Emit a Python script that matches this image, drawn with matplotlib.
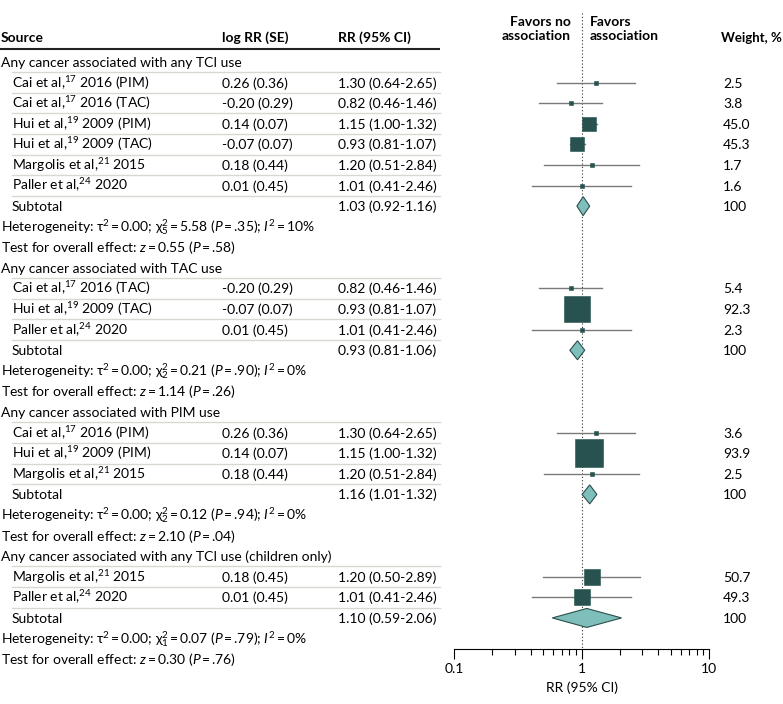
import matplotlib
matplotlib.use("Agg")
import numpy as np
import matplotlib.pyplot as plt

# Dados do forest plot (um item por grupo)
grupos = [
    "Any cancer associated with any TCI use",
    "Any cancer associated with TAC use",
    "Any cancer associated with PIM use",
    "Any cancer associated with any TCI use (children only)",
]
fontes = [
    ["Cai et al,$^{17}$ 2016 (PIM)", "Cai et al,$^{17}$ 2016 (TAC)", "Hui et al,$^{19}$ 2009 (PIM)",
     "Hui et al,$^{19}$ 2009 (TAC)", "Margolis et al,$^{21}$ 2015", "Paller et al,$^{24}$ 2020"],
    ["Cai et al,$^{17}$ 2016 (TAC)", "Hui et al,$^{19}$ 2009 (TAC)", "Paller et al,$^{24}$ 2020"],
    ["Cai et al,$^{17}$ 2016 (PIM)", "Hui et al,$^{19}$ 2009 (PIM)", "Margolis et al,$^{21}$ 2015"],
    ["Margolis et al,$^{21}$ 2015", "Paller et al,$^{24}$ 2020"],
]
log_rr = [[0.26, -0.20, 0.14, -0.07, 0.18, 0.01], [-0.20, -0.07, 0.01], [0.26, 0.14, 0.18], [0.18, 0.01]]
se = [[0.36, 0.29, 0.07, 0.07, 0.44, 0.45], [0.29, 0.07, 0.45], [0.36, 0.07, 0.44], [0.45, 0.45]]
rr = [[1.30, 0.82, 1.15, 0.93, 1.20, 1.01], [0.82, 0.93, 1.01], [1.30, 1.15, 1.20], [1.20, 1.01]]
rr_lo = [[0.64, 0.46, 1.00, 0.81, 0.51, 0.41], [0.46, 0.81, 0.41], [0.64, 1.00, 0.51], [0.50, 0.41]]
rr_hi = [[2.65, 1.46, 1.32, 1.07, 2.84, 2.46], [1.46, 1.07, 2.46], [2.65, 1.32, 2.84], [2.89, 2.46]]
peso = [[2.5, 3.8, 45.0, 45.3, 1.7, 1.6], [5.4, 92.3, 2.3], [3.6, 93.9, 2.5], [50.7, 49.3]]

sub_rr = [1.03, 0.93, 1.16, 1.10]
sub_lo = [0.92, 0.81, 1.01, 0.59]
sub_hi = [1.16, 1.06, 1.32, 2.06]
tau2 = [0.00, 0.00, 0.00, 0.00]
gl = [5, 2, 2, 1]
chi2 = [5.58, 0.21, 0.12, 0.07]
p_het = [".35", ".90", ".94", ".79"]
i2 = [10, 0, 0, 0]
z = [0.55, 1.14, 2.10, 0.30]
p_z = [".58", ".26", ".04", ".76"]

# Estilo
plt.rcParams["font.family"] = ["Lato", "DejaVu Sans"]
plt.rcParams["mathtext.fontset"] = "custom"
plt.rcParams["mathtext.rm"] = "Lato"
plt.rcParams["mathtext.it"] = "Lato:italic"
plt.rcParams["mathtext.bf"] = "Lato:bold"
fs = 10

cor_quad = "#27524f"
cor_diam = "#7ebfbb"
cor_ic = "#7a7a7a"
cor_sep = "#d8d8d2"

W, H = 783, 704
fig = plt.figure(figsize=(W / 100, H / 100), dpi=100)

# eixo de fundo em pixels para o texto
ax0 = fig.add_axes([0, 0, 1, 1])
ax0.set_xlim(0, W)
ax0.set_ylim(H, 0)
ax0.axis("off")

# eixo do forest plot
x0, x1, y_eixo = 454, 709, 649
ax = fig.add_axes([x0 / W, (H - y_eixo) / H, (x1 - x0) / W, y_eixo / H])
ax.set_xscale("log")
ax.set_xlim(0.1, 10)
ax.set_ylim(y_eixo, 0)
ax.patch.set_alpha(0)
for s in ["top", "right", "left"]:
    ax.spines[s].set_visible(False)
ax.spines["bottom"].set_linewidth(0.8)
ax.set_yticks([])
ax.set_xticks([0.1, 1, 10])
ax.set_xticklabels(["0.1", "1", "10"])
ax.tick_params(axis="x", which="major", length=7, width=0.8, labelsize=fs, pad=3)
ax.tick_params(axis="x", which="minor", length=4, width=0.8)
ax.set_xlabel("RR (95% CI)", fontsize=fs, labelpad=5)
ax.vlines(1, 13, y_eixo, colors="#333333", linestyles=(0, (1, 2)), linewidth=0.8)

# cabeçalho
col_src, col_log, col_rr, col_w = 1, 222, 338, 723
yh = 37
for x, t in [(col_src, "Source"), (col_log, "log RR (SE)"), (col_rr, "RR (95% CI)")]:
    ax0.text(x, yh + 5, t, fontsize=fs, fontweight="bold", va="baseline", ha="left")
ax0.text(721, yh + 5, "Weight, %", fontsize=9.5, fontweight="bold", va="baseline", ha="left")
ax0.text(571, 29, "Favors no\nassociation", fontsize=fs, fontweight="bold", ha="right", va="center",
         multialignment="right", linespacing=1.15)
ax0.text(590, 29, "Favors\nassociation", fontsize=fs, fontweight="bold", ha="left", va="center",
         multialignment="left", linespacing=1.15)
ax0.plot([0, 440], [49, 49], color="#222222", lw=1.5, solid_capstyle="butt")

y_top, passo = 62, 20.59
linha = 0


def ypos(r):
    return y_top + passo * r


for g in range(len(grupos)):
    ax0.text(col_src, ypos(linha) + 5, grupos[g], fontsize=fs, va="baseline")
    linha += 1
    n = len(fontes[g])
    for i in range(n):
        y = ypos(linha)
        ax0.plot([12, 440], [y - passo / 2, y - passo / 2], color=cor_sep, lw=1)
        ax0.text(12, y + 5, fontes[g][i], fontsize=fs, va="baseline")
        ax0.text(col_log, y + 5, f"{log_rr[g][i]:.2f} ({se[g][i]:.2f})", fontsize=fs, va="baseline")
        ax0.text(col_rr, y + 5, f"{rr[g][i]:.2f} ({rr_lo[g][i]:.2f}-{rr_hi[g][i]:.2f})", fontsize=fs,
                 va="baseline")
        ax0.text(col_w, y + 5, f"{peso[g][i]:.1f}", fontsize=fs, va="baseline")
        ax.plot([rr_lo[g][i], rr_hi[g][i]], [y, y], color=cor_ic, lw=1, zorder=2)
        lado = (3 + 0.26 * peso[g][i]) * 0.72
        ax.plot(rr[g][i], y, marker="s", ms=lado, color=cor_quad, mec=cor_quad, mew=0.4, zorder=3)
        linha += 1
    # subtotal
    y = ypos(linha)
    ax0.plot([12, 440], [y - passo / 2, y - passo / 2], color=cor_sep, lw=1)
    ax0.text(12, y + 5, "Subtotal", fontsize=fs, va="baseline")
    ax0.text(col_rr, y + 5, f"{sub_rr[g]:.2f} ({sub_lo[g]:.2f}-{sub_hi[g]:.2f})", fontsize=fs, va="baseline")
    ax0.text(col_w, y + 5, "100", fontsize=fs, va="baseline")
    h = 9.5
    ax.fill([sub_lo[g], sub_rr[g], sub_hi[g], sub_rr[g]], [y, y - h, y, y + h],
            facecolor=cor_diam, edgecolor="#2b4e4b", lw=0.8, zorder=3)
    linha += 1
    het = (f"Heterogeneity: τ$^2\\,$=$\\,${tau2[g]:.2f}; χ$^2_{gl[g]}\\,$=$\\,${chi2[g]:.2f} "
           f"($P\\,$=$\\,${p_het[g]}); $I^2\\,$=$\\,${i2[g]}%")
    ax0.text(col_src, ypos(linha) + 5, het, fontsize=fs, va="baseline")
    linha += 1
    ax0.text(col_src, ypos(linha) + 5,
             f"Test for overall effect: $z\\,$=$\\,${z[g]:.2f} ($P\\,$=$\\,${p_z[g]})",
             fontsize=fs, va="baseline")
    linha += 1

fig.savefig("out.png", dpi=100)
